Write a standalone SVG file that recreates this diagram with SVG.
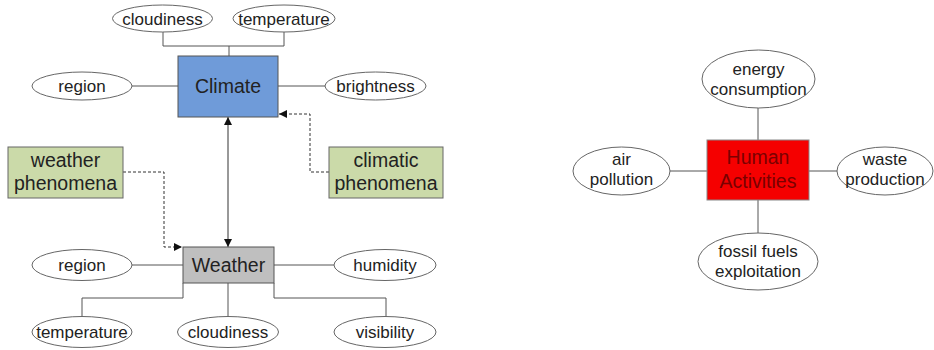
<svg xmlns="http://www.w3.org/2000/svg" width="934" height="350" viewBox="0 0 934 350">
<style>
  text { font-family: "Liberation Sans", Arial, sans-serif; fill: #222; text-anchor: middle; }
  .attr { fill: #fff; stroke: #666; stroke-width: 1; }
  .attr-t { font-size: 17px; }
  .ent-t { font-size: 19.5px; }
  .line { fill: none; stroke: #555; stroke-width: 1; }
  .dash { fill: none; stroke: #333; stroke-width: 1; stroke-dasharray: 3 2; }
  .arrow { fill: none; stroke: #333; stroke-width: 1; }
</style>
<defs>
  <marker id="ah" viewBox="0 0 10 10" refX="10" refY="5" markerWidth="8" markerHeight="8" markerUnits="userSpaceOnUse" orient="auto-start-reverse">
    <path d="M0,0 L10,5 L0,10 z" fill="#111"/>
  </marker>
</defs>

<g id="connectors">
  <!-- Climate attributes -->
  <polyline class="line" points="163,32 163,46 284,46 284,32"/>
  <line class="line" x1="229" y1="46" x2="229" y2="56"/>
  <line class="line" x1="132" y1="86" x2="178" y2="86"/>
  <line class="line" x1="278" y1="86" x2="325" y2="86"/>
  <!-- Climate <-> Weather -->
  <line class="arrow" x1="228" y1="117" x2="228" y2="247" marker-start="url(#ah)" marker-end="url(#ah)"/>
  <!-- phenomena dashed -->
  <polyline class="dash" points="123,172 164,172 164,247 182,247" marker-end="url(#ah)"/>
  <polyline class="dash" points="329,172 310,172 310,114 279,114" marker-end="url(#ah)"/>
  <!-- Weather attributes -->
  <line class="line" x1="132" y1="265" x2="183" y2="265"/>
  <line class="line" x1="274" y1="265" x2="334" y2="265"/>
  <polyline class="line" points="183,283 183,298 82,298 82,317"/>
  <line class="line" x1="228" y1="283" x2="228" y2="317"/>
  <polyline class="line" points="274,283 274,298 386,298 386,317"/>
  <!-- Human Activities -->
  <line class="line" x1="758" y1="108" x2="758" y2="140"/>
  <line class="line" x1="758" y1="200" x2="758" y2="233"/>
  <line class="line" x1="670" y1="171" x2="707" y2="171"/>
  <line class="line" x1="809" y1="171" x2="837" y2="171"/>
</g>

<g id="climate">
  <rect x="178" y="56" width="100" height="61" fill="#6f9bd9" stroke="#555"/>
  <text class="ent-t" x="228" y="93">Climate</text>
</g>
<g id="climate-cloudiness">
  <ellipse class="attr" cx="162.5" cy="18.5" rx="50" ry="13.5"/>
  <text class="attr-t" x="162.5" y="24.5">cloudiness</text>
</g>
<g id="climate-temperature">
  <ellipse class="attr" cx="284" cy="18.5" rx="51" ry="13.5"/>
  <text class="attr-t" x="284" y="24.5">temperature</text>
</g>
<g id="climate-region">
  <ellipse class="attr" cx="82" cy="86" rx="50" ry="14"/>
  <text class="attr-t" x="82" y="92">region</text>
</g>
<g id="climate-brightness">
  <ellipse class="attr" cx="375.5" cy="86" rx="50.5" ry="14"/>
  <text class="attr-t" x="375.5" y="92">brightness</text>
</g>

<g id="weather-phenomena">
  <rect x="8" y="147" width="115" height="51" fill="#cbdaa9" stroke="#666"/>
  <text class="ent-t" x="65.5" y="167">weather</text>
  <text class="ent-t" x="65.5" y="190">phenomena</text>
</g>
<g id="climatic-phenomena">
  <rect x="329" y="147" width="114" height="51" fill="#cbdaa9" stroke="#666"/>
  <text class="ent-t" x="386" y="167">climatic</text>
  <text class="ent-t" x="386" y="190">phenomena</text>
</g>

<g id="weather">
  <rect x="183" y="247" width="91" height="36" fill="#bfbfbf" stroke="#555"/>
  <text class="ent-t" x="228.5" y="272">Weather</text>
</g>
<g id="weather-region">
  <ellipse class="attr" cx="82" cy="265" rx="50" ry="15.5"/>
  <text class="attr-t" x="82" y="271">region</text>
</g>
<g id="weather-humidity">
  <ellipse class="attr" cx="385" cy="265" rx="51" ry="15.5"/>
  <text class="attr-t" x="385" y="271">humidity</text>
</g>
<g id="weather-temperature">
  <ellipse class="attr" cx="82" cy="332" rx="50" ry="15.5"/>
  <text class="attr-t" x="82" y="338">temperature</text>
</g>
<g id="weather-cloudiness">
  <ellipse class="attr" cx="228" cy="332" rx="50.5" ry="15.5"/>
  <text class="attr-t" x="228" y="338">cloudiness</text>
</g>
<g id="weather-visibility">
  <ellipse class="attr" cx="385" cy="332" rx="51" ry="15.5"/>
  <text class="attr-t" x="385" y="338">visibility</text>
</g>

<g id="human-activities">
  <rect x="707" y="140" width="102" height="60" fill="#f50000" stroke="#888"/>
  <text class="ent-t" x="758" y="164" style="fill:#7a0000">Human</text>
  <text class="ent-t" x="758" y="188" style="fill:#7a0000">Activities</text>
</g>
<g id="energy-consumption">
  <ellipse class="attr" cx="758.5" cy="79" rx="56.5" ry="29"/>
  <text class="attr-t" x="758.5" y="75">energy</text>
  <text class="attr-t" x="758.5" y="95">consumption</text>
</g>
<g id="air-pollution">
  <ellipse class="attr" cx="621.5" cy="171" rx="48.5" ry="24"/>
  <text class="attr-t" x="621.5" y="165">air</text>
  <text class="attr-t" x="621.5" y="185">pollution</text>
</g>
<g id="waste-production">
  <ellipse class="attr" cx="885" cy="171" rx="48" ry="24"/>
  <text class="attr-t" x="885" y="165">waste</text>
  <text class="attr-t" x="885" y="185">production</text>
</g>
<g id="fossil-fuels">
  <ellipse class="attr" cx="758" cy="261.5" rx="60" ry="28.5"/>
  <text class="attr-t" x="758" y="257">fossil fuels</text>
  <text class="attr-t" x="758" y="277">exploitation</text>
</g>
</svg>
